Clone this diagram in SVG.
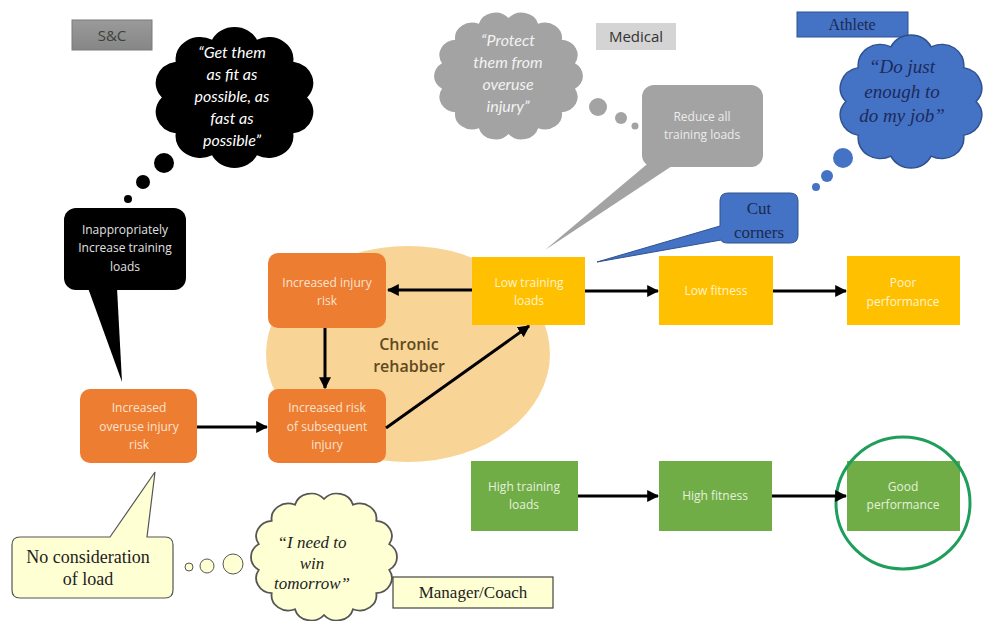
<svg xmlns="http://www.w3.org/2000/svg" xmlns:xlink="http://www.w3.org/1999/xlink" width="985" height="621" viewBox="0 0 985 621">
<style>
.box{font-family:"Open Sans","Liberation Sans",sans-serif;font-size:12px;text-anchor:middle}
.ot{fill:#fbe3d2}.yt{fill:#fff4d0}.gt{fill:#e6f1dd}.wt{fill:#e8e8e8}
.q{font-family:Lato,"Open Sans",sans-serif;font-style:italic;font-size:16px;text-anchor:middle}
.sq{font-family:"Liberation Serif",serif;font-style:italic;font-size:19px;text-anchor:middle}
.lbl{font-family:"Open Sans","Liberation Sans",sans-serif;font-size:15px;text-anchor:middle}
.ser{font-family:"Liberation Serif",serif;text-anchor:middle}
.conn{stroke:#000;stroke-width:3;fill:none;marker-end:url(#ah)}
</style>
<defs>
<path id="cloud" d="M36.4,10.1 A15 15 0 0 1 63.6,10.1 A15 15 0 0 1 85.6,25.3 A15 15 0 0 1 94,50 A15 15 0 0 1 85.6,74.7 A15 15 0 0 1 63.6,89.9 A15 15 0 0 1 36.4,89.9 A15 15 0 0 1 14.4,74.7 A15 15 0 0 1 6,50 A15 15 0 0 1 14.4,25.3 A15 15 0 0 1 36.4,10.1 Z"/>
<path id="cloud2" d="M50,8 A11 11 0 0 1 69.1,12.2 A11 11 0 0 1 84.4,23.8 A11 11 0 0 1 92.9,40.7 A11 11 0 0 1 92.9,59.3 A11 11 0 0 1 84.4,76.2 A11 11 0 0 1 69.1,87.8 A11 11 0 0 1 50,92 A11 11 0 0 1 30.9,87.8 A11 11 0 0 1 15.6,76.2 A11 11 0 0 1 7.1,59.3 A11 11 0 0 1 7.1,40.7 A11 11 0 0 1 15.6,23.8 A11 11 0 0 1 30.9,12.2 A11 11 0 0 1 50,8 Z"/>
<marker id="ah" viewBox="0 0 10 10" refX="9" refY="5" markerWidth="4" markerHeight="4" orient="auto" markerUnits="strokeWidth">
<path d="M0,0 L10,5 L0,10 Z" fill="#000"/>
</marker>
<linearGradient id="sgc" x1="0" y1="0" x2="0" y2="1">
<stop offset="0" stop-color="#9a9a9a"/><stop offset="1" stop-color="#868686"/>
</linearGradient>
</defs>
<rect width="985" height="621" fill="#fff"/>

<g id="chronic-rehabber">
<ellipse cx="408" cy="354" rx="142" ry="108" fill="#F9D497"/>
<text x="409" y="350" font-family="'Open Sans','Liberation Sans',sans-serif" font-size="16" font-weight="600" fill="#5e4a1f" text-anchor="middle">Chronic</text>
<text x="409" y="372" font-family="'Open Sans','Liberation Sans',sans-serif" font-size="16" font-weight="600" fill="#5e4a1f" text-anchor="middle">rehabber</text>
</g>

<g id="sc-label">
<rect x="72" y="20" width="80" height="30" fill="url(#sgc)" stroke="#7a7a7a"/>
<text class="lbl" x="112" y="41" fill="#404040">S&amp;C</text>
</g>
<g id="sc-thought">
<use href="#cloud" transform="translate(152,25) scale(1.65,1.45)" fill="#000"/>
<circle cx="164" cy="163" r="10" fill="#000"/>
<circle cx="143" cy="182" r="7" fill="#000"/>
<circle cx="128" cy="199" r="4" fill="#000"/>
<text class="q" fill="#fff"><tspan x="232" y="58">“Get them</tspan><tspan x="232" y="80">as fit as</tspan><tspan x="232" y="102">possible, as</tspan><tspan x="232" y="124">fast as</tspan><tspan x="232" y="146">possible”</tspan></text>
</g>
<g id="sc-callout">
<rect x="64" y="208" width="122" height="82" rx="12" fill="#000"/>
<polygon points="88,288 122,382 117,288" fill="#000"/>
<text class="box" fill="#e0e0e0"><tspan x="125" y="234">Inappropriately</tspan><tspan x="125" y="252">Increase training</tspan><tspan x="125" y="271">loads</tspan></text>
</g>

<g id="medical-label">
<rect x="596" y="23" width="80" height="27" fill="#d4d4d4"/>
<text class="lbl" x="636" y="42" fill="#333">Medical</text>
</g>
<g id="medical-thought">
<use href="#cloud2" transform="translate(431,7) scale(1.55,1.38)" fill="#a3a3a3"/>
<circle cx="598" cy="107" r="9" fill="#a3a3a3"/>
<circle cx="621" cy="118" r="6" fill="#a3a3a3"/>
<circle cx="635" cy="126" r="3.5" fill="#a3a3a3"/>
<text class="q" fill="#f2f2f2"><tspan x="508" y="46">“Protect</tspan><tspan x="508" y="68">them from</tspan><tspan x="508" y="90">overuse</tspan><tspan x="508" y="112">injury”</tspan></text>
</g>
<g id="medical-callout">
<rect x="642" y="85" width="121" height="82" rx="12" fill="#a3a3a3"/>
<polygon points="652,160 545,250 672,166" fill="#a3a3a3"/>
<text class="box" fill="#ececec"><tspan x="702" y="121">Reduce all</tspan><tspan x="702" y="139">training loads</tspan></text>
</g>

<g id="athlete-label">
<rect x="797" y="12" width="111" height="25" fill="#4472C4" stroke="#2f528f"/>
<text class="ser" x="852" y="30" font-size="16" fill="#1c2a50">Athlete</text>
</g>
<g id="athlete-thought">
<use href="#cloud" transform="translate(837,33) scale(1.48,1.37)" fill="#4472C4" stroke="#2f528f" stroke-width="1" vector-effect="non-scaling-stroke"/>
<circle cx="843" cy="158" r="10" fill="#4472C4"/>
<circle cx="827" cy="176" r="6" fill="#4472C4"/>
<circle cx="816" cy="187" r="4" fill="#4472C4"/>
<text class="sq" fill="#1c2a5c"><tspan x="902" y="73">“Do just</tspan><tspan x="902" y="98">enough to</tspan><tspan x="902" y="122">do my job”</tspan></text>
</g>
<g id="athlete-callout">
<path d="M728,193 H790 Q798,193 798,201 V235 Q798,243 790,243 H728 Q722,243 721,240 L597,262 L720,226 V201 Q720,193 728,193 Z" fill="#4472C4" stroke="#2f528f"/>
<text class="ser" font-size="17" fill="#1c2a50"><tspan x="759" y="214">Cut</tspan><tspan x="759" y="238">corners</tspan></text>
</g>

<g id="increased-overuse">
<rect x="80" y="389" width="117" height="74" rx="10" fill="#ED7D31"/>
<text class="box ot"><tspan x="139" y="412">Increased</tspan><tspan x="139" y="431">overuse injury</tspan><tspan x="139" y="449">risk</tspan></text>
</g>
<g id="increased-subsequent">
<rect x="268" y="389" width="118" height="74" rx="10" fill="#ED7D31"/>
<text class="box ot"><tspan x="327" y="412">Increased risk</tspan><tspan x="327" y="431">of subsequent</tspan><tspan x="327" y="449">injury</tspan></text>
</g>
<g id="increased-injury">
<rect x="268" y="253" width="118" height="75" rx="10" fill="#ED7D31"/>
<text class="box ot"><tspan x="327" y="287">Increased injury</tspan><tspan x="327" y="305">risk</tspan></text>
</g>
<g id="low-training">
<rect x="472" y="257" width="113" height="68" fill="#FFC000"/>
<text class="box yt"><tspan x="529" y="287">Low training</tspan><tspan x="529" y="305">loads</tspan></text>
</g>
<g id="low-fitness">
<rect x="659" y="256" width="114" height="69" fill="#FFC000"/>
<text class="box yt" x="716" y="295">Low fitness</text>
</g>
<g id="poor-performance">
<rect x="847" y="256" width="113" height="69" fill="#FFC000"/>
<text class="box yt"><tspan x="903" y="287">Poor</tspan><tspan x="903" y="306">performance</tspan></text>
</g>
<g id="high-training">
<rect x="471" y="461" width="107" height="70" fill="#70AD47"/>
<text class="box gt"><tspan x="524" y="491">High training</tspan><tspan x="524" y="509">loads</tspan></text>
</g>
<g id="high-fitness">
<rect x="659" y="461" width="113" height="70" fill="#70AD47"/>
<text class="box gt" x="715" y="500">High fitness</text>
</g>
<g id="good-performance">
<rect x="847" y="461" width="113" height="70" fill="#70AD47"/>
<text class="box gt"><tspan x="903" y="491">Good</tspan><tspan x="903" y="509">performance</tspan></text>
<ellipse cx="903" cy="503" rx="67" ry="66" fill="none" stroke="#1e9e5a" stroke-width="3"/>
</g>

<g id="coach-callout">
<path d="M20,537 H110 L155,472 L147,537 H165 Q173,537 173,545 V590 Q173,598 165,598 H20 Q12,598 12,590 V545 Q12,537 20,537 Z" fill="#FFFFD4" stroke="#555" stroke-width="1.2"/>
<text class="ser" font-size="18" fill="#222"><tspan x="88" y="563">No consideration</tspan><tspan x="88" y="585">of load</tspan></text>
</g>
<g id="coach-thought">
<circle cx="189" cy="567" r="4" fill="#FFFFD4" stroke="#555"/>
<circle cx="207" cy="566" r="7" fill="#FFFFD4" stroke="#555"/>
<circle cx="233" cy="564" r="10" fill="#FFFFD4" stroke="#555"/>
<use href="#cloud2" transform="translate(248,488) scale(1.52,1.38)" fill="#FFFFD4" stroke="#555" stroke-width="1.2" vector-effect="non-scaling-stroke"/>
<text class="ser" font-size="17" font-style="italic" fill="#222"><tspan x="312" y="548">“I need to</tspan><tspan x="312" y="569">win</tspan><tspan x="312" y="589">tomorrow”</tspan></text>
</g>
<g id="coach-label">
<rect x="393" y="577" width="160" height="31" fill="#FFFFD4" stroke="#444" stroke-width="1.2"/>
<text class="ser" x="473" y="598" font-size="17" fill="#222">Manager/Coach</text>
</g>

<g id="connectors">
<line class="conn" x1="472" y1="290" x2="388" y2="290"/>
<line class="conn" x1="325" y1="328" x2="325" y2="388"/>
<line class="conn" x1="197" y1="427" x2="267" y2="427"/>
<line class="conn" x1="386" y1="428" x2="529" y2="326"/>
<line class="conn" x1="585" y1="291" x2="658" y2="291"/>
<line class="conn" x1="773" y1="291" x2="846" y2="291"/>
<line class="conn" x1="578" y1="496" x2="658" y2="496"/>
<line class="conn" x1="772" y1="496" x2="846" y2="496"/>
</g>
</svg>
